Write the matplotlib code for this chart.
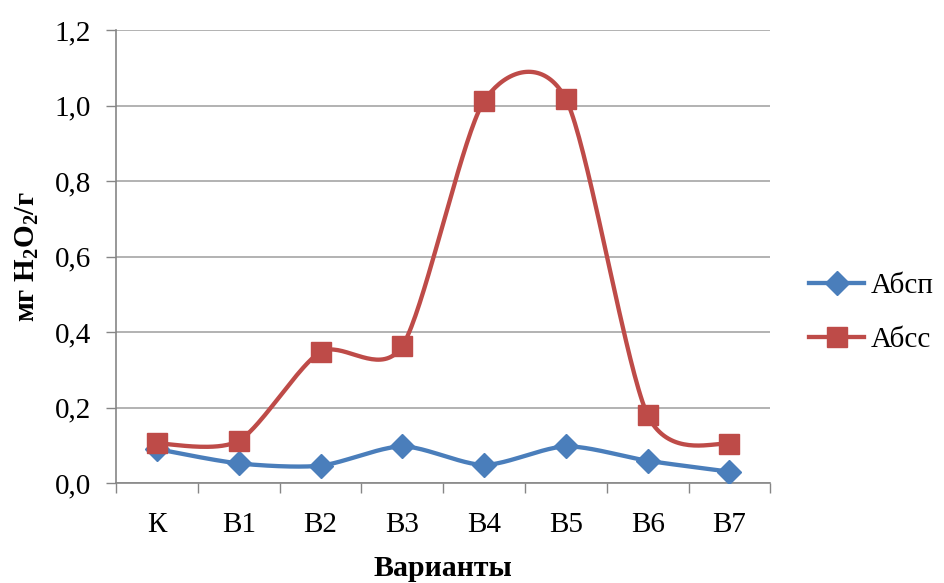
import numpy as np
import matplotlib
matplotlib.use("Agg")
import matplotlib.pyplot as plt
from matplotlib.ticker import FixedLocator, FuncFormatter

plt.rcParams['font.family'] = 'serif'
plt.rcParams['font.serif'] = ['Liberation Serif', 'DejaVu Serif']
plt.rcParams['mathtext.fontset'] = 'custom'
plt.rcParams['mathtext.rm'] = 'Liberation Serif:bold'
plt.rcParams['mathtext.it'] = 'Liberation Serif:bold'
plt.rcParams['mathtext.bf'] = 'Liberation Serif:bold'

# data
categories = ['К', 'В1', 'В2', 'В3', 'В4', 'В5', 'В6', 'В7']
absp = [0.090, 0.052, 0.046, 0.097, 0.048, 0.097, 0.059, 0.030]
abss = [0.105, 0.112, 0.347, 0.363, 1.012, 1.017, 0.180, 0.103]
y_ticks = [0.0, 0.2, 0.4, 0.6, 0.8, 1.0, 1.2]


def smooth(xs, ys, n=40, k=7.5):
    # Excel-like smoothed line: cubic bezier, control points from neighbours
    xs = np.asarray(xs, float)
    ys = np.asarray(ys, float)
    px, py = [], []
    t = np.linspace(0, 1, n)
    for i in range(len(xs) - 1):
        i0 = max(i - 1, 0)
        i3 = min(i + 2, len(xs) - 1)
        p0 = np.array([xs[i], ys[i]])
        p3 = np.array([xs[i + 1], ys[i + 1]])
        c1 = p0 + (p3 - np.array([xs[i0], ys[i0]])) / k
        c2 = p3 - (np.array([xs[i3], ys[i3]]) - p0) / k
        b = ((1 - t) ** 3)[:, None] * p0 + (3 * (1 - t) ** 2 * t)[:, None] * c1 \
            + (3 * (1 - t) * t ** 2)[:, None] * c2 + (t ** 3)[:, None] * p3
        px.extend(b[:, 0])
        py.extend(b[:, 1])
    return px, py


x = np.arange(len(categories))

fig = plt.figure(figsize=(9.44, 5.83), dpi=100)
ax = fig.add_axes([0.123, 0.1715, 0.693, 0.777])

blue = '#4a7ebb'
red = '#be4b48'

sx, sy = smooth(x, absp)
ax.plot(sx, sy, color=blue, lw=3.1, zorder=3, solid_capstyle='round')
ax.plot(x, absp, 'D', color=blue, ms=12, zorder=4)
sx, sy = smooth(x, abss)
ax.plot(sx, sy, color=red, lw=3.1, zorder=5, solid_capstyle='round')
ax.plot(x, abss, 's', color=red, ms=14, zorder=6)

# legend proxies
ax.plot([], [], color=blue, lw=3.1, marker='D', ms=12, label='Абсп')
ax.plot([], [], color=red, lw=3.1, marker='s', ms=14, label='Абсс')
handles, labels = ax.get_legend_handles_labels()
fig.legend(handles, labels, loc='center left', bbox_to_anchor=(0.857, 0.463),
           frameon=False, fontsize=21, labelspacing=0.95, handlelength=1.9,
           handletextpad=0.2, borderpad=0, borderaxespad=0)

ax.set_xlim(-0.5, len(categories) - 0.5)
ax.set_ylim(0, 1.2)
ax.set_yticks(y_ticks)
ax.yaxis.set_major_formatter(FuncFormatter(lambda v, p: f'{v:.1f}'.replace('.', ',')))
ax.set_xticks(x)
ax.set_xticklabels(categories)
ax.xaxis.set_minor_locator(FixedLocator(np.arange(-0.5, len(categories), 1)))
ax.tick_params(axis='x', which='major', length=0, pad=21, labelsize=21)
ax.tick_params(axis='x', which='minor', length=7, color='#868686', width=1)
ax.tick_params(axis='y', length=7, color='#868686', width=1, labelsize=21, pad=11)

ax.grid(axis='y', color='#a6a6a6', lw=1.2)
ax.set_axisbelow(True)
for s in ['top', 'right']:
    ax.spines[s].set_visible(False)
for s in ['left', 'bottom']:
    ax.spines[s].set_color('#868686')
    ax.spines[s].set_linewidth(1.2)

ax.set_xlabel('Варианты', fontsize=21.5, fontweight='bold', labelpad=12)
ax.set_ylabel('мг H$_2$O$_2$/г', fontsize=21, fontweight='bold', labelpad=10)

fig.savefig('out.png', dpi=100)
